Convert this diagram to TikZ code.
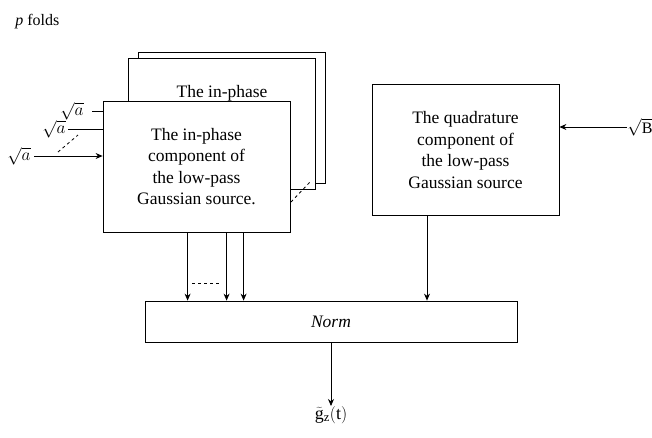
\documentclass[tikz,border=0pt]{standalone}
\usepackage{fontspec}
\setmainfont{Liberation Serif}
\usetikzlibrary{arrows.meta}

\begin{document}
\begin{tikzpicture}[x=1pt, y=-1pt, line width=0.8pt,
  box/.style={draw, fill=white, inner sep=0pt, minimum width=187pt, minimum height=131pt,
    align=center, font=\fontsize{17.5}{21.5}\selectfont},
  arr/.style={-{Stealth[length=7pt,width=6pt]}},
  lbl/.style={inner sep=0pt, font=\fontsize{16}{19}\selectfont}]
\useasboundingbox (0,0) rectangle (652,437);
\node[lbl, anchor=base west] (folds) at (15,25) {\textit{p} folds};
% the p folds of the in-phase part
\node[box] (fold2) at (232,117.5) {};
\node[box] (fold1) at (222,124) {The in-phase\\\phantom{component of}\\\phantom{the low-pass}\\\phantom{Gaussian source.}};
\node[box] (fold0) at (196.5,166.5) {The in-phase\\component of\\the low-pass\\Gaussian source.};
\draw[dashed] (291,202) -- (310,182);
\node[box] (quad) at (465.5,150) {The quadrature\\component of\\the low-pass\\Gaussian source};
\node[box, minimum width=372pt, minimum height=41pt] (norm) at (331,321.5) {\textit{Norm}};
% inputs
\node[lbl, anchor=east] (a0) at (31,156) {$\sqrt{a}$};
\node[lbl, anchor=east] (a1) at (66,129) {$\sqrt{a}$};
\node[lbl, anchor=east] (a2) at (84,111) {$\sqrt{a}$};
\draw[arr] ([xshift=3pt]a0.east) -- (a0.east -| fold0.west);
\draw ([xshift=2pt]a1.east) -- (a1.east -| fold0.west);
\draw ([xshift=8pt]a2.east) -- (a2.east -| fold0.west);
\draw[dashed] (58,152) -- (78,135);
\node[lbl, anchor=west] (b) at (627,127) {$\sqrt{\mathrm{B}}$};
\draw[arr] (b.west) -- (b.west -| quad.east);
% into the norm
\foreach \x in {85,124,141}
  \draw[arr] ([xshift=\x pt]fold0.south west) -- ([xshift=\x pt]fold0.south west |- norm.north);
\draw[dashed] (192,283) -- (222,283);
\draw[arr] ([xshift=-38.5pt]quad.south) -- ([xshift=-38.5pt]quad.south |- norm.north);
\node[lbl, anchor=north, font=\fontsize{18}{20}\selectfont] (g) at (331,406) {$\widetilde{\mathrm{g}}_{\mathrm{z}}(\mathrm{t})$};
\draw[arr] (norm.south -| g.north) -- (g.north);
\end{tikzpicture}
\end{document}
